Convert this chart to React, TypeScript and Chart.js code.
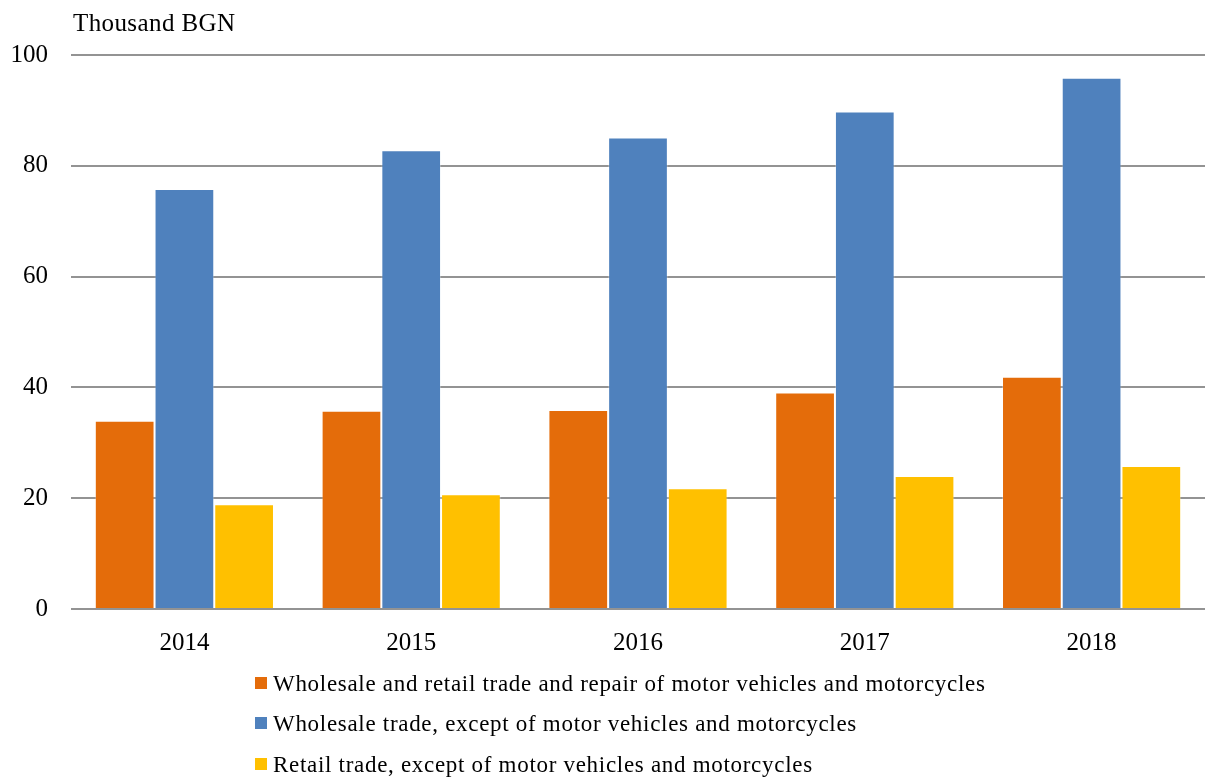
import React, { useEffect, useRef } from "react";
import { Chart, registerables } from "chart.js";

Chart.register(...registerables);

const years = ["2014", "2015", "2016", "2017", "2018"];
const seriesNames = [
  "Wholesale and retail trade and repair of motor vehicles and motorcycles",
  "Wholesale trade, except of motor vehicles and motorcycles",
  "Retail trade, except of motor vehicles and motorcycles",
];
const motorTrade = [34, 35.8, 35.9, 39.1, 41.9];
const wholesaleTrade = [75.8, 82.8, 85.1, 89.8, 95.9];
const retailTrade = [18.9, 20.7, 21.8, 24, 25.8];
const colors = ["#E46C0A", "#4F81BD", "#FFC000"];
const yTicks = [0, 20, 40, 60, 80, 100];
const unitLabel = "Thousand BGN";

const FONT = "'Liberation Serif', 'Times New Roman', serif";

const overlayPlugin = {
  id: "overlay",
  afterDraw(chart: any) {
    const ctx = chart.ctx;
    const area = chart.chartArea;
    ctx.save();
    ctx.fillStyle = "#000";
    ctx.font = `25px ${FONT}`;
    ctx.textBaseline = "alphabetic";
    ctx.textAlign = "left";
    (ctx as any).letterSpacing = "0.4px";
    ctx.fillText(unitLabel, area.left + 2, 31);

    const rowsY = [683, 723, 764];
    ctx.font = `23px ${FONT}`;
    ctx.textBaseline = "middle";
    chart.data.datasets.forEach((ds: any, i: number) => {
      const y = rowsY[i];
      (ctx as any).letterSpacing = "0px";
      ctx.fillStyle = ds.backgroundColor;
      ctx.fillRect(255, y - 6, 12, 12);
      ctx.fillStyle = "#000";
      (ctx as any).letterSpacing = "0.7px";
      ctx.fillText(ds.label, 273, y + 2);
    });
    (ctx as any).letterSpacing = "0px";
    ctx.restore();
  },
};

export default function App() {
  const ref = useRef<HTMLCanvasElement>(null);
  useEffect(() => {
    document.body.style.margin = "0";
    const data = [motorTrade, wholesaleTrade, retailTrade];
    const chart = new Chart(ref.current as HTMLCanvasElement, {
      type: "bar",
      data: {
        labels: years,
        datasets: data.map((d, i) => ({
          label: seriesNames[i],
          data: d,
          backgroundColor: colors[i],
          borderColor: "rgba(255,255,255,0.3)",
          borderWidth: 1,
          categoryPercentage: 0.79,
          barPercentage: 1.0,
        })),
      },
      options: {
        animation: false,
        responsive: false,
        devicePixelRatio: 1,
        layout: { padding: { top: 55, right: 1, left: 0, bottom: 0 } },
        plugins: {
          legend: { display: false },
          title: { display: false },
          tooltip: { enabled: false },
        },
        scales: {
          x: {
            grid: { display: false, drawTicks: false },
            border: { display: false },
            ticks: {
              color: "#000",
              font: { family: FONT, size: 25 },
              padding: 19,
            },
            afterFit(scale: any) {
              scale.height = 169;
            },
          },
          y: {
            min: 0,
            max: 100,
            afterBuildTicks(scale: any) {
              scale.ticks = yTicks.map((v) => ({ value: v }));
            },
            grid: { color: "#939393", lineWidth: 2, drawTicks: false },
            border: { display: false },
            ticks: {
              color: "#000",
              font: { family: FONT, size: 25 },
              padding: 23,
            },
            afterFit(scale: any) {
              scale.width = 71;
            },
          },
        },
      },
      plugins: [overlayPlugin],
    });
    return () => chart.destroy();
  }, []);
  return <canvas ref={ref} width={1206} height={778} />;
}
